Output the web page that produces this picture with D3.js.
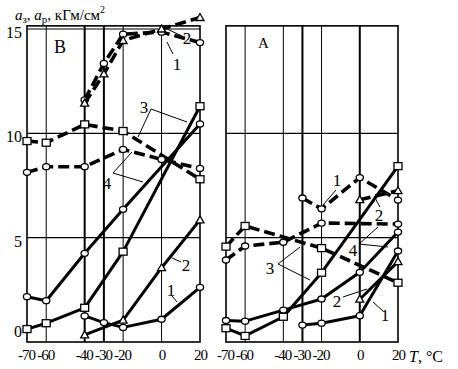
<!DOCTYPE html>
<html lang="ru">
<head>
<meta charset="UTF-8">
<title>a_з, a_р vs T</title>
<script src="https://d3js.org/d3.v7.min.js"></script>
<style>
  body { margin: 0; background: #fff; }
  text { font-family: "Liberation Serif", "DejaVu Serif", serif; fill: #000; }
</style>
</head>
<body>
<svg id="chart" width="458" height="369"></svg>
<script>
// temperature ticks shared by both panels
const tempTicks = [-70, -60, -40, -30, -20, 0, 20];
const valueTicks = [0, 5, 10, 15];

// panel B series
const bDash1T = [-40, -30, -20, 0, 20];
const bDash1V = [11.6, 13.35, 14.75, 14.85, 14.35];
const bDash2T = [-40, -30, -20, 0, 20];
const bDash2V = [11.45, 12.85, 14.45, 15.0, 15.55];
const bDash3T = [-70, -60, -40, -20, 20];
const bDash3V = [9.63, 9.55, 10.43, 10.11, 7.8];
const bDash4T = [-70, -60, -40, -20, 0, 20];
const bDash4V = [8.13, 8.4, 8.4, 9.23, 8.75, 8.32];
const bSol4T = [-70, -60, -40, -20, 20];
const bSol4V = [2.17, 1.98, 4.25, 6.36, 10.45];
const bSol3T = [-70, -60, -40, -20, 20];
const bSol3V = [0.62, 0.9, 1.64, 4.33, 11.3];
const bSol2T = [-40, -20, 0, 20];
const bSol2V = [0.34, 1.05, 3.56, 5.85];
const bSol1T = [-40, -30, -20, 0, 20];
const bSol1V = [1.25, 0.93, 0.7, 1.09, 2.62];

// panel A series
const aDash1T = [-30, -20, 0, 20];
const aDash1V = [6.9, 6.38, 7.88, 6.8];
const aDash2T = [0, 20];
const aDash2V = [6.82, 7.25];
const aDash3T = [-70, -60, -20, 20];
const aDash3V = [4.57, 5.56, 4.5, 2.84];
const aDash4T = [-70, -60, -40, -20, 20];
const aDash4V = [3.93, 4.6, 4.78, 5.7, 5.65];
const aSol4T = [-70, -60, -40, -20, 0, 20];
const aSol4V = [1.03, 1.0, 1.53, 2.06, 3.34, 5.27];
const aSol3T = [-70, -60, -40, -20, 20];
const aSol3V = [0.66, 0.29, 1.21, 3.32, 8.43];
const aSol2T = [0, 20];
const aSol2V = [2.05, 3.85];
const aSol1T = [-30, -20, 0, 20];
const aSol1V = [0.81, 0.9, 1.26, 4.36];

const svg = d3.select("#chart");
const y = d3.scaleLinear().domain([0, 15]).range([342, 29]);
const xB = d3.scaleLinear().domain([-70, 20]).range([27, 200]);
const xA = d3.scaleLinear().domain([-70, 20]).range([226, 398]);
const topY = y(15.15);

function zip(ts, vs) { return ts.map((t, i) => ({ t, v: vs[i] })); }

function panel(x, hLines, thickV) {
  const g = svg.append("g");
  // vertical grid
  tempTicks.filter(t => t > -70 && t < 20).forEach(t => {
    g.append("line")
      .attr("x1", x(t)).attr("x2", x(t))
      .attr("y1", topY).attr("y2", y(0))
      .attr("stroke", "#000")
      .attr("stroke-width", thickV.includes(t) ? 2 : 1);
  });
  hLines.forEach(v => {
    g.append("line")
      .attr("x1", x(-70)).attr("x2", x(20))
      .attr("y1", y(v)).attr("y2", y(v))
      .attr("stroke", "#000").attr("stroke-width", 1.2);
  });
  g.append("rect")
    .attr("x", x(-70)).attr("y", topY)
    .attr("width", x(20) - x(-70)).attr("height", y(0) - topY)
    .attr("fill", "none").attr("stroke", "#000").attr("stroke-width", 1.6);

  // x tick labels
  const ax = g.append("g").attr("transform", `translate(0,${y(0)})`)
    .call(d3.axisBottom(x).tickValues(tempTicks).tickSize(0).tickPadding(7)
      .tickFormat(d => d < 0 ? "-" + Math.abs(d) : d));
  ax.select(".domain").remove();
  ax.selectAll("text")
    .style("font-family", "Liberation Serif, serif")
    .style("font-size", "15px")
    .style("letter-spacing", "-1px")
    .attr("fill", "#000")
    .attr("dx", d => d < 0 ? "-1" : "0");
  return g;
}

function series(x, data, dashed, marker) {
  const line = d3.line().x(d => x(d.t)).y(d => y(d.v));
  svg.append("path")
    .datum(data)
    .attr("d", line)
    .attr("fill", "none")
    .attr("stroke", "#000")
    .attr("stroke-width", dashed ? 3.6 : 3)
    .attr("stroke-dasharray", dashed ? "11,5" : null)
    .attr("stroke-linejoin", "round");
  const g = svg.append("g");
  data.forEach(d => {
    const cx = x(d.t), cy = y(d.v);
    if (marker === "circle") {
      g.append("ellipse").attr("cx", cx).attr("cy", cy).attr("rx", 3.6).attr("ry", 3)
        .attr("fill", "#fff").attr("stroke", "#000").attr("stroke-width", 1.3);
    } else if (marker === "square") {
      g.append("rect").attr("x", cx - 4).attr("y", cy - 3.5).attr("width", 8).attr("height", 7)
        .attr("fill", "#fff").attr("stroke", "#000").attr("stroke-width", 1.3);
    } else {
      g.append("path").attr("d", `M${cx - 4},${cy + 3}L${cx + 4},${cy + 3}L${cx},${cy - 4}Z`)
        .attr("fill", "#fff").attr("stroke", "#000").attr("stroke-width", 1.3);
    }
  });
}

panel(xB, [5, 10, 15], [-40, -30]);
panel(xA, [5, 10], [-30, 0]);

// y tick labels (panel B only)
svg.append("g").selectAll("text")
  .data(valueTicks)
  .join("text")
  .attr("x", 22)
  .attr("y", d => d === 0 ? y(d) - 5 : y(d) + 9)
  .attr("text-anchor", "end")
  .style("font-size", "16px")
  .text(d => d);

// panel B curves
series(xB, zip(bDash3T, bDash3V), true, "square");
series(xB, zip(bDash4T, bDash4V), true, "circle");
series(xB, zip(bDash1T, bDash1V), true, "circle");
series(xB, zip(bDash2T, bDash2V), true, "triangle");
series(xB, zip(bSol4T, bSol4V), false, "circle");
series(xB, zip(bSol3T, bSol3V), false, "square");
series(xB, zip(bSol2T, bSol2V), false, "triangle");
series(xB, zip(bSol1T, bSol1V), false, "circle");

// panel A curves
series(xA, zip(aDash3T, aDash3V), true, "square");
series(xA, zip(aDash4T, aDash4V), true, "circle");
series(xA, zip(aDash1T, aDash1V), true, "circle");
series(xA, zip(aDash2T, aDash2V), true, "triangle");
series(xA, zip(aSol4T, aSol4V), false, "circle");
series(xA, zip(aSol3T, aSol3V), false, "square");
series(xA, zip(aSol2T, aSol2V), false, "triangle");
series(xA, zip(aSol1T, aSol1V), false, "circle");

// curve numbers with leader lines
const curveLabels = [
  { text: "1", x: 177, y: 70, leaders: [[173, 54, 167, 42]] },
  { text: "2", x: 187, y: 44, leaders: [[182, 36, 167, 29]] },
  { text: "3", x: 144, y: 113, leaders: [[151, 109, 187, 122], [151, 109, 138, 137]] },
  { text: "4", x: 107, y: 189, leaders: [[113, 173, 132, 152], [113, 173, 143, 182]] },
  { text: "2", x: 186, y: 271, leaders: [[181, 262, 172, 258]] },
  { text: "1", x: 171, y: 296, leaders: [[172, 296, 177, 302]] },
  { text: "1", x: 337, y: 186, leaders: [[336, 190, 323, 205]] },
  { text: "2", x: 379, y: 221, leaders: [[380, 207, 374, 196]] },
  { text: "4", x: 353, y: 256, leaders: [[359, 244, 378, 227], [359, 244, 388, 247]] },
  { text: "3", x: 270, y: 274, leaders: [[278, 264, 300, 247], [278, 264, 310, 280]] },
  { text: "2", x: 337, y: 307, leaders: [[343, 297, 367, 289]] },
  { text: "1", x: 385, y: 321, leaders: [[383, 311, 373, 302]] }
];
curveLabels.forEach(l => {
  l.leaders.forEach(s => {
    svg.append("line")
      .attr("x1", s[0]).attr("y1", s[1]).attr("x2", s[2]).attr("y2", s[3])
      .attr("stroke", "#000").attr("stroke-width", 1);
  });
  svg.append("text")
    .attr("x", l.x).attr("y", l.y)
    .attr("text-anchor", "middle")
    .style("font-size", "17px")
    .text(l.text);
});

// panel letters
svg.append("text").attr("x", 54).attr("y", 53).style("font-size", "18px").text("B");
svg.append("text").attr("x", 258).attr("y", 48).style("font-size", "15px").text("A");

// y-axis title
const title = svg.append("text").attr("x", 15).attr("y", 20).style("font-size", "15px");
title.append("tspan").style("font-style", "italic").text("a");
title.append("tspan").attr("dy", 3).style("font-size", "11px").text("з");
title.append("tspan").attr("dy", -3).text(", ");
title.append("tspan").style("font-style", "italic").text("a");
title.append("tspan").attr("dy", 3).style("font-size", "11px").text("р");
title.append("tspan").attr("dy", -3).text(", кГм/см");
title.append("tspan").attr("dy", -7).style("font-size", "10px").text("2");

// x-axis title
const xt = svg.append("text").attr("x", 409).attr("y", 362).style("font-size", "16px");
xt.append("tspan").style("font-style", "italic").text("T");
xt.append("tspan").text(", °C");
</script>
</body>
</html>
